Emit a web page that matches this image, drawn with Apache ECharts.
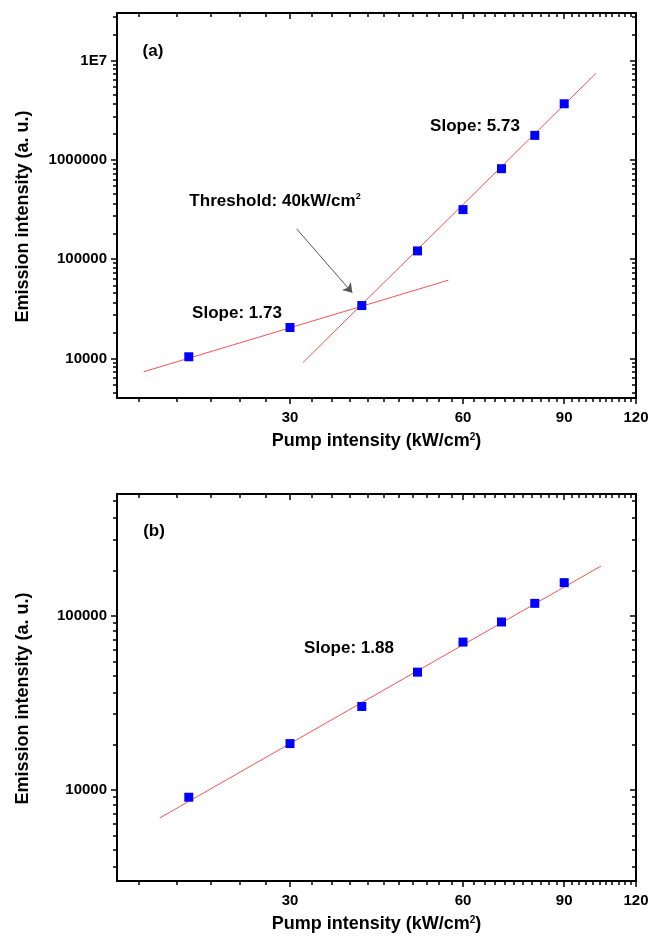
<!DOCTYPE html>
<html>
<head>
<meta charset="utf-8">
<script src="https://cdn.jsdelivr.net/npm/echarts@6/dist/echarts.min.js"></script>
<style>
  html, body { margin: 0; padding: 0; background: #fff; }
  #chart { width: 656px; height: 940px; }
</style>
</head>
<body>
<div id="chart"></div>
<script>
// Emission intensity versus pump intensity, log-log, for two samples (a) and (b)
const pumpA = [20, 30, 40, 50, 60, 70, 80, 90];
const emissionA = [10400, 20500, 34100, 121000, 315000, 813000, 1760000, 3660000];
const pumpB = [20, 30, 40, 50, 60, 70, 80, 90];
const emissionB = [9080, 18450, 30140, 47450, 70600, 92100, 117800, 154900];

// Power-law fit lines, given by their end points [pump, emission]
const fitLowA = [[16.7, 7350], [56.6, 61400]];        // slope 1.73
const fitHighA = [[31.6, 9100], [102.2, 7400000]];    // slope 5.73
const fitB = [[17.8, 6900], [104.3, 193000]];         // slope 1.88

// Arrow pointing at the threshold crossing in (a)
const thresholdArrow = [[30.8, 202000], [38.5, 45800]];

// Axis ranges and tick labels
const xRange = [15, 120];
const yRangeA = [4000, 30000000];
const yRangeB = [3000, 500000];
const xMajorTicks = [30, 60, 90, 120];
const xTickLabels = ['30', '60', '90', '120'];
const yMajorTicksA = [10000, 100000, 1000000, 10000000];
const yTickLabelsA = ['10000', '100000', '1000000', '1E7'];
const yMajorTicksB = [10000, 100000];
const yTickLabelsB = ['10000', '100000'];

// Minor ticks: ten per major step, spaced linearly at step/11
function linearMinors(step, lo, hi) {
  const out = [];
  for (let b = 0; b < hi; b += step) {
    for (let j = 1; j <= 10; j++) {
      const v = b + step * j / 11;
      if (v > lo && v < hi) out.push(v);
    }
  }
  return out;
}
// Minor ticks on the log axes: decade top * j/11
function decadeMinors(lo, hi) {
  const out = [];
  for (let e = Math.floor(Math.log10(lo)); e <= Math.ceil(Math.log10(hi)); e++) {
    const top = Math.pow(10, e + 1);
    for (let j = 2; j <= 10; j++) {
      const v = top * j / 11;
      if (v > lo && v < hi) out.push(v);
    }
  }
  return out;
}

const xMinorTicks = linearMinors(30, xRange[0], xRange[1]);

const FONT = '"Liberation Sans", Arial, sans-serif';
const INK = '#000';
const MAJOR_LEN = 6;
const MINOR_LEN = 4;

function labelFor(ticks, labels) {
  return function (v) {
    for (let i = 0; i < ticks.length; i++) {
      if (Math.abs(ticks[i] - v) / ticks[i] < 1e-6) return labels[i];
    }
    return '';
  };
}

function baseAxis(grid, range, position) {
  return {
    type: 'log', logBase: 10, gridIndex: grid, position: position,
    min: range[0], max: range[1],
    splitLine: { show: false },
    axisLine: { show: false, onZero: false },
    axisLabel: { show: false },
    axisTick: { show: false },
    axisPointer: { show: false }
  };
}

function tickAxis(grid, range, position, values, len, inside, withLine) {
  const a = baseAxis(grid, range, position);
  a.axisLine = { show: withLine, onZero: false, lineStyle: { color: INK, width: 2 } };
  a.axisTick = { show: true, customValues: values, length: len, inside: inside,
                 lineStyle: { color: INK, width: 1.5 } };
  return a;
}

const xName = '{t|Pump intensity (kW/cm}{s|2}{t|)}';
const nameRich = {
  t: { fontSize: 18, fontWeight: 'bold', fontFamily: FONT, color: INK },
  s: { fontSize: 10, fontWeight: 'bold', fontFamily: FONT, color: INK, verticalAlign: 'top' }
};

function xAxesFor(grid) {
  const main = tickAxis(grid, xRange, 'bottom', xMajorTicks, MAJOR_LEN, false, true);
  main.axisLabel = {
    show: true, customValues: xMajorTicks, formatter: labelFor(xMajorTicks, xTickLabels),
    fontSize: 15, fontWeight: 'bold', fontFamily: FONT, color: INK, margin: 12
  };
  main.name = xName;
  main.nameLocation = 'middle';
  main.nameGap = 34;
  main.nameTextStyle = { fontSize: 18, fontWeight: 'bold', fontFamily: FONT, color: INK, rich: nameRich };
  return [
    main,
    tickAxis(grid, xRange, 'bottom', xMinorTicks, MINOR_LEN, false, false),
    tickAxis(grid, xRange, 'top', xMajorTicks, MAJOR_LEN, true, true),
    tickAxis(grid, xRange, 'top', xMinorTicks, MINOR_LEN, true, false)
  ];
}

function yAxesFor(grid, range, majors, labels) {
  const minors = decadeMinors(range[0], range[1]);
  const main = tickAxis(grid, range, 'left', majors, MAJOR_LEN, false, true);
  main.axisLabel = {
    show: true, customValues: majors, formatter: labelFor(majors, labels),
    fontSize: 15, fontWeight: 'bold', fontFamily: FONT, color: INK, margin: 10
  };
  main.name = 'Emission intensity (a. u.)';
  main.nameLocation = 'middle';
  main.nameGap = 85;
  main.nameTextStyle = { fontSize: 18, fontWeight: 'bold', fontFamily: FONT, color: INK,
                         padding: [0, 22, 0, 0] };
  return [
    main,
    tickAxis(grid, range, 'left', minors, MINOR_LEN, false, false),
    tickAxis(grid, range, 'right', majors, MAJOR_LEN, true, true),
    tickAxis(grid, range, 'right', minors, MINOR_LEN, true, false)
  ];
}

function pairs(xs, ys) { return xs.map((x, i) => [x, ys[i]]); }

const FIT_COLOR = '#f05656';
function fitSeries(points, axisIdx) {
  return {
    type: 'line', data: points, xAxisIndex: axisIdx, yAxisIndex: axisIdx,
    symbol: 'none', lineStyle: { color: FIT_COLOR, width: 1 }, z: 2, silent: true
  };
}
function pointSeries(xs, ys, axisIdx) {
  return {
    type: 'scatter', data: pairs(xs, ys), xAxisIndex: axisIdx, yAxisIndex: axisIdx,
    symbol: 'rect', symbolSize: 9, itemStyle: { color: '#0000ff', opacity: 1 },
    z: 3, silent: true
  };
}

const textStyle = { fontSize: 17, fontWeight: 'bold', fontFamily: FONT, fill: INK };
function note(x, y, text, extra) {
  return { type: 'text', x: x, y: y, silent: true,
           style: Object.assign({ text: text, align: 'center', verticalAlign: 'middle' }, textStyle, extra || {}) };
}

const scatterA = pointSeries(pumpA, emissionA, 0);
scatterA.markLine = {
  silent: true, symbol: ['none', 'arrow'], symbolSize: 9,
  label: { show: false },
  lineStyle: { color: '#555', width: 1, type: 'solid' },
  itemStyle: { color: '#555' },
  data: [[{ coord: thresholdArrow[0] }, { coord: thresholdArrow[1] }]]
};

const chart = echarts.init(document.getElementById('chart'), null, { renderer: 'canvas' });
chart.setOption({
  animation: false,
  backgroundColor: '#fff',
  textStyle: { fontFamily: FONT },
  grid: [
    { left: 117, top: 13, width: 519, height: 385, outerBoundsMode: 'none', containLabel: false },
    { left: 117, top: 494, width: 519, height: 387, outerBoundsMode: 'none', containLabel: false }
  ],
  xAxis: xAxesFor(0).concat(xAxesFor(1)),
  yAxis: yAxesFor(0, yRangeA, yMajorTicksA, yTickLabelsA)
    .concat(yAxesFor(1, yRangeB, yMajorTicksB, yTickLabelsB)),
  series: [
    fitSeries(fitLowA, 0),
    fitSeries(fitHighA, 0),
    scatterA,
    fitSeries(fitB, 4),
    pointSeries(pumpB, emissionB, 4)
  ],
  graphic: [
    note(153, 51, '(a)'),
    note(237, 313, 'Slope: 1.73'),
    note(475, 126, 'Slope: 5.73'),
    note(275, 201, '{t|Threshold: 40kW/cm}{s|2}', {
      rich: {
        t: { fontSize: 17, fontWeight: 'bold', fontFamily: FONT, fill: INK },
        s: { fontSize: 9, fontWeight: 'bold', fontFamily: FONT, fill: INK, verticalAlign: 'top' }
      }
    }),
    note(154, 531, '(b)'),
    note(349, 648, 'Slope: 1.88')
  ]
});
</script>
</body>
</html>
